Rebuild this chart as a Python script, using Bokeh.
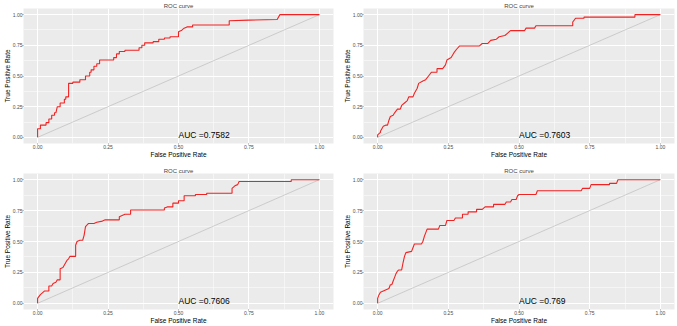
from bokeh.plotting import figure
from bokeh.layouts import gridplot
from bokeh.models import FixedTicker, Range1d, Label
from bokeh.embed import file_html
from bokeh.resources import INLINE

# ---- data ----
tick_values = [0.0, 0.25, 0.5, 0.75, 1.0]
tick_labels = ["0.00", "0.25", "0.50", "0.75", "1.00"]
minor_values = [0.125, 0.375, 0.625, 0.875]

diag_x = [0.0, 1.0]
diag_y = [0.0, 1.0]

fpr1 = [0, 0, 0.01, 0.01, 0.03, 0.03, 0.04, 0.04, 0.05, 0.05, 0.06, 0.06, 0.065, 0.07, 0.08, 0.08,
        0.095, 0.095, 0.10, 0.10, 0.11, 0.11, 0.125, 0.125, 0.15, 0.15, 0.17, 0.17, 0.185, 0.185,
        0.19, 0.19, 0.20, 0.20, 0.21, 0.21, 0.22, 0.22, 0.27, 0.27, 0.28, 0.28, 0.29, 0.29, 0.31,
        0.31, 0.36, 0.36, 0.37, 0.37, 0.38, 0.38, 0.41, 0.41, 0.43, 0.43, 0.45, 0.45, 0.47, 0.47,
        0.50, 0.50, 0.51, 0.52, 0.53, 0.55, 0.55, 0.68, 0.68, 0.75, 0.85, 0.86, 1.0]
tpr1 = [0, 0.07, 0.07, 0.10, 0.10, 0.12, 0.12, 0.15, 0.15, 0.18, 0.18, 0.20, 0.20, 0.25, 0.25, 0.28,
        0.28, 0.31, 0.31, 0.33, 0.33, 0.44, 0.44, 0.45, 0.45, 0.47, 0.47, 0.50, 0.50, 0.53,
        0.53, 0.55, 0.55, 0.58, 0.58, 0.60, 0.60, 0.63, 0.63, 0.65, 0.65, 0.68, 0.68, 0.70, 0.70,
        0.71, 0.71, 0.73, 0.73, 0.75, 0.75, 0.77, 0.77, 0.78, 0.78, 0.80, 0.80, 0.81, 0.81, 0.82,
        0.82, 0.86, 0.87, 0.89, 0.90, 0.90, 0.915, 0.915, 0.95, 0.955, 0.96, 1.0, 1.0]

fpr2 = [0, 0, 0.01, 0.01, 0.02, 0.03, 0.035, 0.04, 0.045, 0.055, 0.06, 0.07, 0.08, 0.085, 0.095,
        0.105, 0.11, 0.125, 0.13, 0.14, 0.145, 0.16, 0.17, 0.18, 0.19, 0.21, 0.21, 0.23, 0.24,
        0.245, 0.26, 0.27, 0.28, 0.29, 0.36, 0.37, 0.39, 0.40, 0.42, 0.43, 0.45, 0.46, 0.47, 0.52,
        0.525, 0.555, 0.56, 0.69, 0.69, 0.70, 0.73, 0.73, 0.91, 0.91, 1.0]
tpr2 = [0, 0.02, 0.04, 0.05, 0.09, 0.10, 0.10, 0.14, 0.17, 0.18, 0.20, 0.23, 0.23, 0.26, 0.28,
        0.30, 0.33, 0.33, 0.36, 0.40, 0.44, 0.46, 0.47, 0.50, 0.53, 0.53, 0.56, 0.56, 0.59,
        0.63, 0.65, 0.69, 0.72, 0.745, 0.745, 0.765, 0.765, 0.79, 0.80, 0.82, 0.83, 0.85, 0.87, 0.87,
        0.89, 0.89, 0.91, 0.91, 0.94, 0.97, 0.97, 0.98, 0.98, 1.0, 1.0]

fpr3 = [0, 0, 0.01, 0.02, 0.025, 0.04, 0.04, 0.05, 0.055, 0.065, 0.07, 0.08, 0.08, 0.09, 0.095,
        0.10, 0.105, 0.11, 0.115, 0.135, 0.135, 0.14, 0.15, 0.16, 0.165, 0.17, 0.18, 0.20, 0.21,
        0.23, 0.24, 0.29, 0.29, 0.30, 0.31, 0.33, 0.33, 0.45, 0.45, 0.46, 0.48, 0.48, 0.50, 0.50,
        0.52, 0.52, 0.56, 0.56, 0.60, 0.60, 0.69, 0.69, 0.70, 0.71, 0.715, 0.90, 0.90, 1.0]
tpr3 = [0, 0.04, 0.07, 0.09, 0.10, 0.10, 0.14, 0.14, 0.16, 0.17, 0.19, 0.19, 0.28, 0.29, 0.31,
        0.33, 0.35, 0.36, 0.38, 0.38, 0.47, 0.50, 0.51, 0.51, 0.55, 0.62, 0.645, 0.645, 0.655,
        0.665, 0.675, 0.675, 0.70, 0.71, 0.72, 0.72, 0.755, 0.755, 0.77, 0.78, 0.78, 0.81, 0.81, 0.83,
        0.83, 0.87, 0.87, 0.88, 0.88, 0.89, 0.89, 0.93, 0.95, 0.96, 0.985, 0.985, 1.0, 1.0]

fpr4 = [0, 0, 0.005, 0.01, 0.02, 0.03, 0.04, 0.045, 0.05, 0.055, 0.06, 0.065, 0.07, 0.075, 0.085,
        0.09, 0.095, 0.10, 0.12, 0.125, 0.13, 0.155, 0.16, 0.165, 0.17, 0.175, 0.215, 0.22, 0.24,
        0.245, 0.27, 0.275, 0.30, 0.30, 0.32, 0.32, 0.35, 0.35, 0.37, 0.38, 0.41, 0.41, 0.45, 0.455,
        0.47, 0.475, 0.49, 0.495, 0.50, 0.56, 0.565, 0.72, 0.725, 0.75, 0.755, 0.82, 0.82, 0.845,
        0.85, 1.0]
tpr4 = [0, 0.04, 0.07, 0.09, 0.10, 0.11, 0.12, 0.15, 0.15, 0.18, 0.21, 0.24, 0.26, 0.27, 0.27,
        0.33, 0.38, 0.41, 0.42, 0.45, 0.48, 0.48, 0.50, 0.54, 0.57, 0.60, 0.60, 0.63, 0.63,
        0.67, 0.67, 0.69, 0.69, 0.72, 0.72, 0.74, 0.74, 0.76, 0.76, 0.78, 0.78, 0.80, 0.80, 0.82,
        0.82, 0.84, 0.84, 0.87, 0.88, 0.88, 0.91, 0.91, 0.93, 0.93, 0.96, 0.96, 0.97, 0.97,
        1.0, 1.0]

auc_labels = ["AUC =0.7582", "AUC =0.7603", "AUC =0.7606", "AUC =0.769"]
title_text = "ROC curve"
x_title = "False Positive Rate"
y_title = "True Positive Rate"

FONT = "Liberation Sans"


def make(fpr, tpr, auc, w, h, bl, br, bt, bb):
    p = figure(width=w, height=h, output_backend="svg", toolbar_location=None,
               x_range=Range1d(-0.05, 1.05), y_range=Range1d(-0.05, 1.05),
               title=title_text,
               min_border_left=bl, min_border_right=br,
               min_border_top=bt, min_border_bottom=bb,
               background_fill_color="#EBEBEB", border_fill_color="white",
               outline_line_color=None)
    p.title.text_font = FONT
    p.title.text_font_size = "6px"
    p.title.text_font_style = "normal"
    p.title.align = "center"
    p.title.standoff = 0
    p.title.offset = 0

    for ax in (p.xaxis[0], p.yaxis[0]):
        ax.ticker = FixedTicker(ticks=tick_values, minor_ticks=minor_values)
        ax.major_label_overrides = dict(zip(tick_values, tick_labels))
        ax.axis_line_color = None
        ax.major_tick_line_color = "#333333"
        ax.major_tick_line_width = 0.5
        ax.major_tick_out = 1
        ax.major_tick_in = 0
        ax.minor_tick_out = 0
        ax.minor_tick_in = 0
        ax.major_label_text_font = FONT
        ax.major_label_text_font_size = "5px"
        ax.major_label_text_color = "#4D4D4D"
        ax.major_label_standoff = 0
        ax.axis_label_text_font = FONT
        ax.axis_label_text_font_size = "6.5px"
        ax.axis_label_text_font_style = "normal"
        ax.axis_label_text_color = "black"
        ax.axis_label_standoff = -1
    p.xaxis.axis_label = x_title
    p.yaxis.axis_label = y_title

    p.grid.grid_line_color = "white"
    p.grid.grid_line_width = 1
    p.grid.minor_grid_line_color = "white"
    p.grid.minor_grid_line_width = 0.5

    p.line(diag_x, diag_y, line_color="#BDBDBD", line_width=0.7)
    p.line(fpr, tpr, line_color="#F22222", line_width=1.1)

    p.add_layout(Label(x=0.5, y=0.02, text=auc, text_font=FONT,
                       text_font_size="8.5px", text_align="left",
                       text_baseline="middle", text_color="black"))
    return p


p1 = make(fpr1, tpr1, auc_labels[0], 339, 163, 22, 6, 7, 20)
p2 = make(fpr2, tpr2, auc_labels[1], 338, 163, 24, 3, 7, 20)
p3 = make(fpr3, tpr3, auc_labels[2], 339, 163, 22, 6, 10, 16)
p4 = make(fpr4, tpr4, auc_labels[3], 338, 163, 24, 3, 10, 16)

layout = gridplot([[p1, p2], [p3, p4]], toolbar_location=None)

open("out.html", "w").write(file_html(layout, INLINE))
